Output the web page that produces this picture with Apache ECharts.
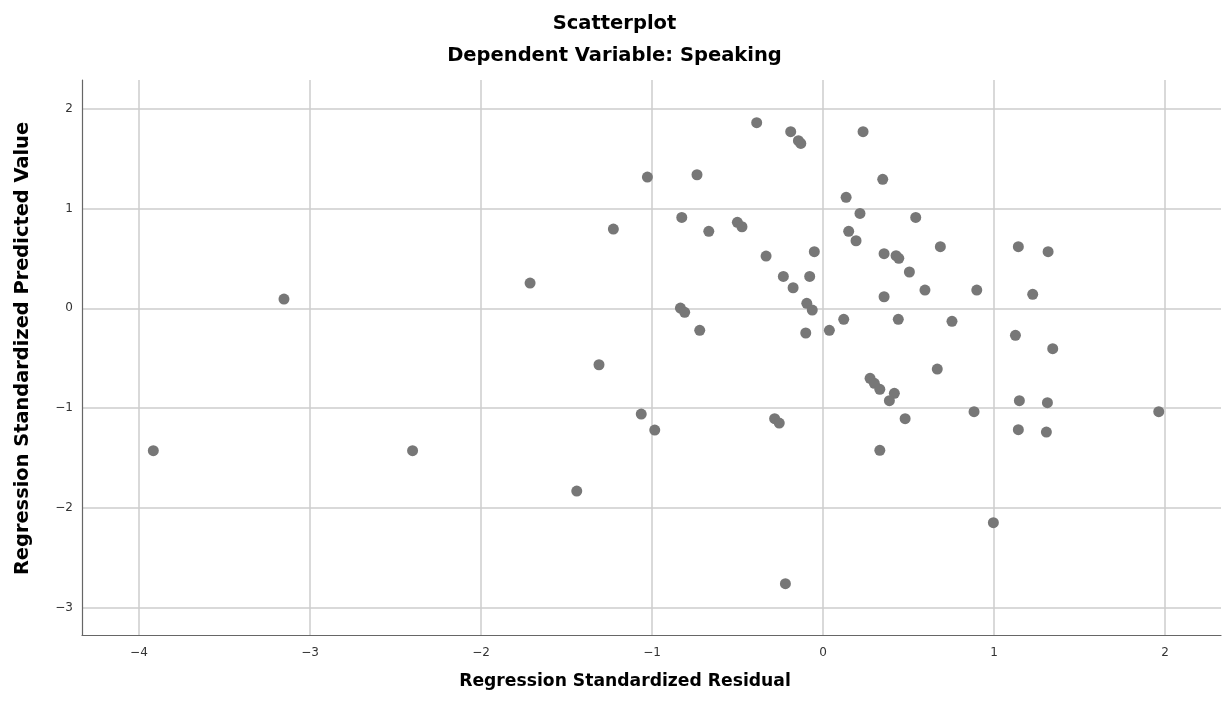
<!DOCTYPE html>
<html>
<head>
<meta charset="utf-8">
<script src="https://cdn.jsdelivr.net/npm/echarts@6/dist/echarts.min.js"></script>
<style>html,body{margin:0;padding:0;background:#fff}#c{width:1229px;height:708px}</style>
</head>
<body>
<div id="c"></div>
<script>
// Regression Standardized Residual (x) and Regression Standardized Predicted Value (y)
const residual = [
  -3.152, -3.916, -2.400, -0.388, -0.189, -0.144, -0.130, -1.027, -0.737, 0.135,
  -0.826, -1.226, -0.668, -0.501, -0.474, 0.150, 0.193, -0.051, -0.333, -0.232,
  -0.078, -0.175, -1.713, -0.834, -0.809, -0.095, -0.063, -0.721, -0.101, 0.037,
  0.121, 0.234, 0.349, 0.216, 0.542, 0.357, 0.427, 0.443, 0.686, 0.505,
  0.596, 0.899, 0.357, 1.142, 1.316, 1.226, 0.440, 0.754, 1.125, 1.343,
  -1.310, -1.063, -0.984, -0.283, -0.256, -1.440, -0.220, 0.275, 0.300, 0.332,
  0.417, 0.388, 0.668, 0.480, 0.883, 0.332, 1.148, 1.312, 1.142, 1.306,
  1.963, 0.996
];
const predicted = [
  0.093, -1.426, -1.426, 1.859, 1.769, 1.679, 1.652, 1.315, 1.338, 1.112,
  0.911, 0.794, 0.771, 0.861, 0.817, 0.771, 0.677, 0.567, 0.524, 0.320,
  0.320, 0.206, 0.253, 0.003, -0.040, 0.050, -0.017, -0.220, -0.247, -0.220,
  -0.110, 1.769, 1.292, 0.951, 0.911, 0.547, 0.527, 0.501, 0.617, 0.364,
  0.183, 0.183, 0.116, 0.617, 0.567, 0.140, -0.110, -0.130, -0.270, -0.404,
  -0.565, -1.059, -1.219, -1.105, -1.149, -1.830, -2.758, -0.701, -0.751, -0.811,
  -0.851, -0.925, -0.608, -1.105, -1.035, -1.422, -0.925, -0.945, -1.215, -1.239,
  -1.035, -2.147
];
const xTicks = [-4, -3, -2, -1, 0, 1, 2];
const yTicks = [-3, -2, -1, 0, 1, 2];
const titleText = 'Scatterplot';
const subtitleText = 'Dependent Variable: Speaking';
const xName = 'Regression Standardized Residual';
const yName = 'Regression Standardized Predicted Value';

const points = residual.map((x, i) => [x, predicted[i]]);
const FONT = "'DejaVu Sans', 'Noto Sans', sans-serif";
const fmt = v => (v < 0 ? '\u2212' + Math.abs(v) : String(v));

const chart = echarts.init(document.getElementById('c'), null, {renderer: 'canvas'});
chart.setOption({
  animation: false,
  backgroundColor: '#fff',
  title: [
    {text: titleText, left: 'center', top: 9,
     textStyle: {fontFamily: FONT, fontWeight: 'bold', fontSize: 19.5, color: '#000'}},
    {text: subtitleText, left: 'center', top: 41,
     textStyle: {fontFamily: FONT, fontWeight: 'bold', fontSize: 19.5, color: '#000'}}
  ],
  grid: {left: 82, right: 8, top: 80, bottom: 73, containLabel: false},
  xAxis: {
    type: 'value', min: -4.333, max: 2.327,
    name: xName, nameLocation: 'middle', nameGap: 38,
    nameTextStyle: {fontFamily: FONT, fontWeight: 'bold', fontSize: 17.2, color: '#000', padding: [0, 53, 0, 0]},
    axisLine: {show: true, onZero: false, lineStyle: {color: '#666', width: 1.2}},
    axisTick: {show: false, customValues: xTicks},
    axisLabel: {customValues: xTicks, formatter: fmt, fontFamily: FONT, fontSize: 12, color: '#333', margin: 12},
    splitLine: {show: true, lineStyle: {color: '#cccccc', width: 1.5}}
  },
  yAxis: {
    type: 'value', min: -3.272, max: 2.287,
    name: yName, nameLocation: 'middle', nameGap: 50,
    nameTextStyle: {fontFamily: FONT, fontWeight: 'bold', fontSize: 19.4, color: '#000', padding: [0, 0, 0, 18]},
    axisLine: {show: true, onZero: false, lineStyle: {color: '#666', width: 1.2}},
    axisTick: {show: false, customValues: yTicks},
    axisLabel: {customValues: yTicks, formatter: fmt, fontFamily: FONT, fontSize: 12, color: '#333', margin: 9},
    splitLine: {show: true, lineStyle: {color: '#cccccc', width: 1.5}}
  },
  series: [{
    type: 'scatter',
    data: points,
    symbolSize: 11,
    itemStyle: {color: '#777777', opacity: 1},
    silent: true
  }]
});
</script>
</body>
</html>
